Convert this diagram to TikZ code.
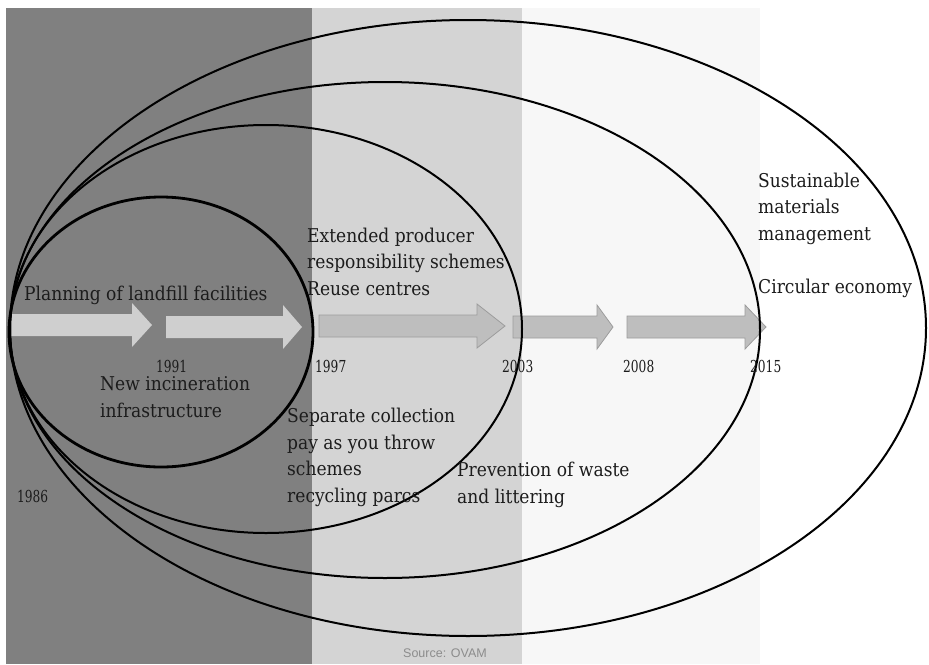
\documentclass[tikz,border=0pt]{standalone}
\usepackage{fontspec}
\setmainfont[FakeStretch=0.9]{DejaVu Serif}
\newfontfamily\yearfont[FakeStretch=0.74]{DejaVu Serif}
\newfontfamily\srcfont{Liberation Sans}
\definecolor{darkpanel}{HTML}{808080}
\definecolor{lightpanel}{HTML}{D4D4D4}
\definecolor{palepanel}{HTML}{F7F7F7}
\definecolor{arrowlight}{HTML}{CFCFCF}
\definecolor{arrowmid}{HTML}{BEBEBE}
\definecolor{arrowedge}{HTML}{9C9C9C}
\definecolor{textcol}{HTML}{1C1C1C}
\definecolor{srccol}{HTML}{8C8C8C}
\newcommand\blockarrow[5]{%
  \path[#1] (#2,#5-11) -- (#3,#5-11) -- (#3,#5-22) -- (#4,#5) -- (#3,#5+22) -- (#3,#5+11) -- (#2,#5+11) -- cycle;}
\begin{document}
\begin{tikzpicture}[x=1pt,y=-1pt,
  txt/.style={font=\fontsize{19}{26.5}\selectfont, align=left, inner sep=0pt, anchor=base west, text=textcol},
  yr/.style={font=\yearfont\fontsize{16.5}{18}\selectfont, inner sep=0pt, anchor=base west, text=textcol},
  ring/.style={draw=black, line width=2pt},
  innerring/.style={draw=black, line width=2.8pt},
  arrA/.style={fill=arrowlight},
  arrB/.style={fill=arrowmid, draw=arrowedge, line width=0.8pt}]
\useasboundingbox (0,0) rectangle (929,664);
\fill[white] (0,0) rectangle (929,664);
% period panels
\fill[darkpanel] (6,8) rectangle (312,664);
\fill[lightpanel] (312,8) rectangle (522,664);
\fill[palepanel] (522,8) rectangle (760,664);
% timeline arrows
\blockarrow{arrA}{10}{132}{152}{325}
\blockarrow{arrA}{166}{283}{302}{327}
\blockarrow{arrB}{319}{477}{505}{326}
\blockarrow{arrB}{513}{597}{613}{327}
\blockarrow{arrB}{627}{745}{766}{327}
% nested ellipses
\draw[ring] (468,328) ellipse [x radius=458, y radius=308];
\draw[ring] (385,330) ellipse [x radius=375, y radius=248];
\draw[ring] (266,329) ellipse [x radius=256, y radius=204];
\draw[innerring] (161,332) ellipse [x radius=152, y radius=135];
% years
\node[yr] (y1986) at (17,502) {1986};
\node[yr] (y1991) at (156,372) {1991};
\node[yr] (y1997) at (315,372) {1997};
\node[yr] (y2003) at (502,372) {2003};
\node[yr] (y2008) at (623,372) {2008};
\node[yr] (y2015) at (750,372) {2015};
% labels (base anchor = baseline of the last line)
\node[txt] (landfill) at (24,300) {Planning of landfill facilities};
\node[txt] (incin) at (100,417) {New incineration\\infrastructure};
\node[txt] (epr) at (307,295) {Extended producer\\responsibility schemes\\Reuse centres};
\node[txt] (sepcol) at (287,502) {Separate collection\\pay as you throw\\schemes\\recycling parcs};
\node[txt] (prev) at (457,503) {Prevention of waste\\and littering};
\node[txt] (smm) at (758,240) {Sustainable\\materials\\management};
\node[txt] (circ) at (758,293) {Circular economy};
\node[font=\srcfont\fontsize{12.5}{14}\selectfont, text=srccol, inner sep=0pt, anchor=base] (src) at (445,657) {Source: OVAM};
\end{tikzpicture}
\end{document}
